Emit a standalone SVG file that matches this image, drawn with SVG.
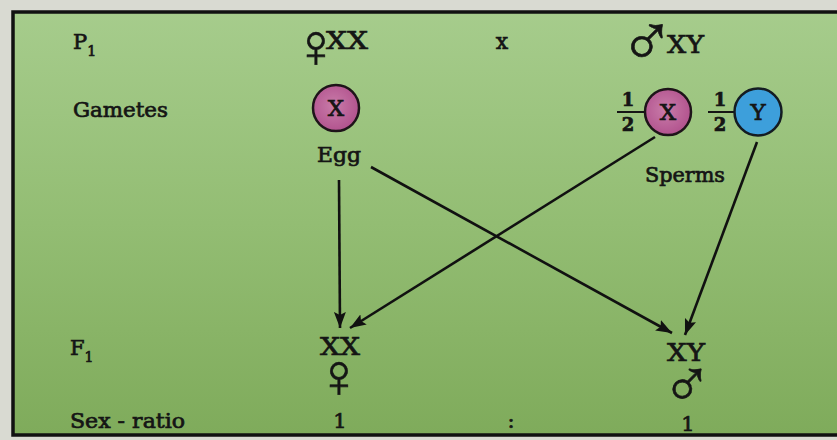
<svg xmlns="http://www.w3.org/2000/svg" width="837" height="440" viewBox="0 0 837 440">
<defs>
<linearGradient id="bg" x1="0" y1="0" x2="0" y2="1">
<stop offset="0" stop-color="#a6cc8c"/>
<stop offset="0.5" stop-color="#93bd73"/>
<stop offset="1" stop-color="#7fab5b"/>
</linearGradient>
<radialGradient id="pink" cx="0.45" cy="0.45" r="0.6">
<stop offset="0" stop-color="#c97ca9"/>
<stop offset="1" stop-color="#b0508c"/>
</radialGradient>
<marker id="ah" markerUnits="userSpaceOnUse" markerWidth="18" markerHeight="12" refX="16" refY="6" orient="auto">
<path d="M0,0 L16,6 L0,12 L3,6 z" fill="#111"/>
</marker>
<style>
text{font-family:"DejaVu Serif","Liberation Serif",serif;fill:#151515;stroke:#151515;stroke-width:0.7}
.lbl{font-size:21px}
.big{font-size:25px}
.sym{font-family:"Liberation Sans","DejaVu Sans",sans-serif;stroke:#151515;stroke-width:0.6}
.conn line{stroke:#111;stroke-width:2.6;marker-end:url(#ah)}
.egg{fill:url(#pink);stroke:#1e1419;stroke-width:2.5}
.ysp{fill:#3d9fdb;stroke:#141c22;stroke-width:2.5}
.frac{font-size:18px;font-weight:bold}
.in{font-size:23px}
</style>
</defs>
<rect width="837" height="440" fill="#d9dad2"/>
<rect x="13" y="12" width="830" height="423" fill="url(#bg)" stroke="#111" stroke-width="3.5"/>

<g id="row-labels">
<text class="lbl" x="73" y="49">P<tspan font-size="14" dy="7">1</tspan></text>
<text class="lbl" x="73" y="117" textLength="95" lengthAdjust="spacingAndGlyphs">Gametes</text>
<text class="lbl" x="70" y="355">F<tspan font-size="14" dy="7">1</tspan></text>
<text class="lbl" x="70" y="428" textLength="115" lengthAdjust="spacingAndGlyphs">Sex - ratio</text>
</g>

<g id="parent-female">
<text class="sym" x="316" y="67" font-size="62" text-anchor="middle">♀</text>
<text class="big" x="326" y="49" textLength="42" lengthAdjust="spacingAndGlyphs">XX</text>
</g>
<g id="cross">
<text x="502" y="49" font-size="22" text-anchor="middle">x</text>
</g>
<g id="parent-male">
<text class="sym" x="647" y="66" font-size="74" text-anchor="middle">♂</text>
<text class="big" x="667" y="53" textLength="37" lengthAdjust="spacingAndGlyphs">XY</text>
</g>

<g id="egg">
<circle class="egg" cx="336" cy="108" r="23"/>
<text class="in" x="336" y="116" text-anchor="middle">X</text>
<text class="lbl" x="339" y="162" text-anchor="middle" textLength="44" lengthAdjust="spacingAndGlyphs">Egg</text>
</g>

<g id="sperm-x">
<text class="frac" x="628" y="106" text-anchor="middle">1</text>
<line x1="617" y1="112" x2="645" y2="112" stroke="#151515" stroke-width="2"/>
<text class="frac" x="628" y="131" text-anchor="middle">2</text>
<circle class="egg" cx="668" cy="112" r="23"/>
<text class="in" x="668" y="120" text-anchor="middle">X</text>
</g>

<g id="sperm-y">
<text class="frac" x="720" y="106" text-anchor="middle">1</text>
<line x1="708" y1="112" x2="734" y2="112" stroke="#151515" stroke-width="2"/>
<text class="frac" x="720" y="131" text-anchor="middle">2</text>
<circle class="ysp" cx="758" cy="112" r="23.5"/>
<text class="in" x="758" y="120" text-anchor="middle">Y</text>
</g>

<g id="sperms-label">
<text class="lbl" x="685" y="182" text-anchor="middle" textLength="80" lengthAdjust="spacingAndGlyphs">Sperms</text>
</g>

<g id="f1-female">
<text class="big" x="340" y="355" text-anchor="middle" textLength="40" lengthAdjust="spacingAndGlyphs">XX</text>
<text class="sym" x="339" y="397" font-size="62" text-anchor="middle">♀</text>
</g>

<g id="f1-male">
<text class="big" x="686" y="361" text-anchor="middle" textLength="38" lengthAdjust="spacingAndGlyphs">XY</text>
<text class="sym" x="687" y="407" font-size="68" text-anchor="middle">♂</text>
</g>

<g id="ratio">
<text class="lbl" x="340" y="428" text-anchor="middle">1</text>
<text class="lbl" x="511" y="428" text-anchor="middle">:</text>
<text class="lbl" x="688" y="431" text-anchor="middle">1</text>
</g>

<g id="connectors" class="conn">
<line x1="339" y1="180" x2="340" y2="328"/>
<line x1="371" y1="167" x2="672" y2="333"/>
<line x1="655" y1="137" x2="350" y2="328"/>
<line x1="757" y1="142" x2="685" y2="335"/>
</g>
</svg>
